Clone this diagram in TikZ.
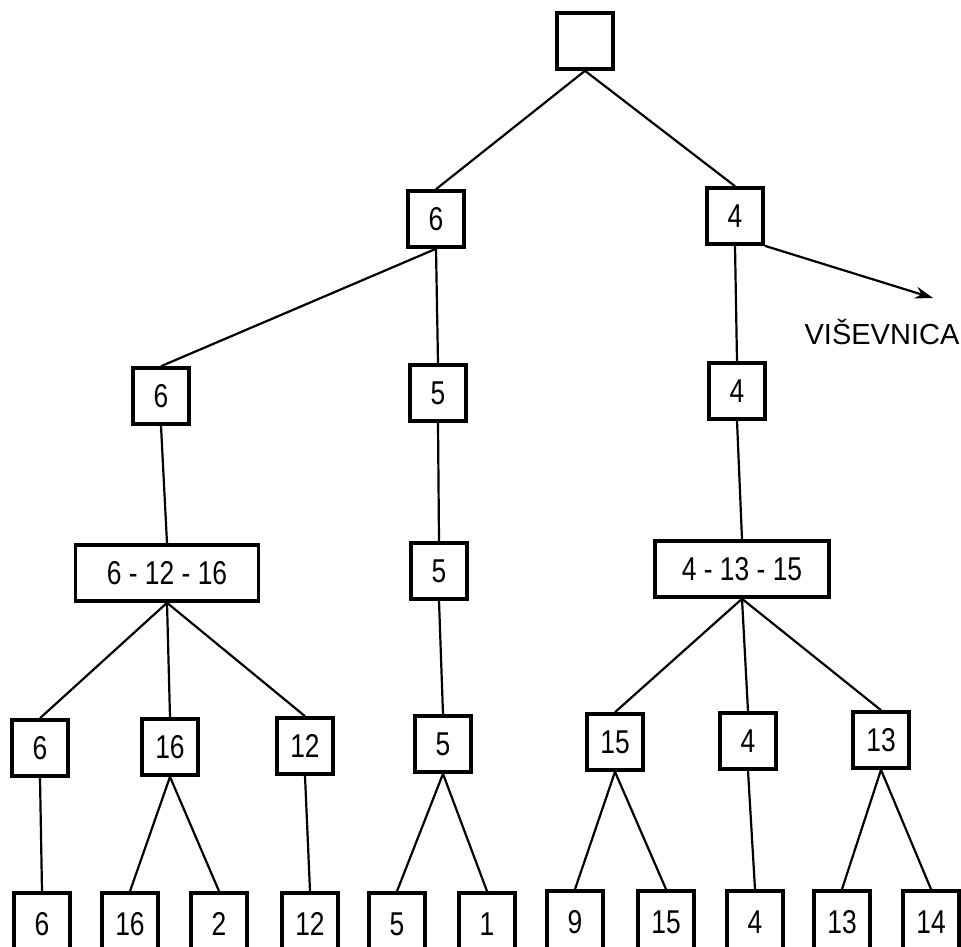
\documentclass[tikz,border=0pt]{standalone}
\usepackage{fontspec}
\setmainfont{Liberation Sans}
\newfontfamily\numfont[FakeStretch=0.8]{Liberation Sans}
\usetikzlibrary{arrows.meta}
\begin{document}
\begin{tikzpicture}[x=1pt,y=-1pt,
  box/.style={draw, line width=3.6pt, minimum width=56pt, minimum height=56pt, inner sep=0pt,
              font=\numfont\fontsize{33}{35}\selectfont},
  wide/.style={box, minimum width=#1},
  leaf/.style={box, minimum height=62pt},
  edge/.style={line width=2.2pt},
  lbl/.style={inner sep=0pt, font=\fontsize{29}{31}\selectfont}]
\useasboundingbox (0,0) rectangle (961,947);
% level 0
\node[box] (root) at (585,41) {};
% level 1
\node[box] (a6) at (436,219) {6};
\node[box] (a4) at (735,216) {4};
% level 2
\node[box] (b6) at (161,396) {6};
\node[box] (b5) at (438,393) {5};
\node[box] (b4) at (737,391) {4};
% level 3
\node[wide=183pt] (c1) at (167,573) {6 - 12 - 16};
\node[box] (c5) at (439,571) {5};
\node[wide=174pt] (c2) at (742,569) {4 - 13 - 15};
% level 4
\node[box] (d6) at (40,748) {6};
\node[box] (d16) at (170,747) {16};
\node[box] (d12) at (305,746) {12};
\node[box] (d5) at (443,744) {5};
\node[box] (d15) at (615,742) {15};
\node[box] (d4) at (748,741) {4};
\node[box] (d13) at (881,740) {13};
% level 5
\node[leaf] (e6) at (42,924) {6};
\node[leaf] (e16) at (130,924) {16};
\node[leaf] (e2) at (219,924) {2};
\node[leaf] (e12) at (310,924) {12};
\node[leaf] (e5) at (397,924) {5};
\node[leaf] (e1) at (487,924) {1};
\node[leaf] (e9) at (575,922) {9};
\node[leaf] (e15) at (666,922) {15};
\node[leaf] (e4) at (755,922) {4};
\node[leaf] (e13) at (842,922) {13};
\node[leaf] (e14) at (931,922) {14};
% label
\coordinate (vtip) at (933,298);
\node[lbl] (vis) at (882,332) {VIŠEVNICA};
% connectors
\draw[edge] (root.south) -- (a6.north);
\draw[edge] (root.south) -- (a4.north);
\draw[edge] (a6.south) -- (b6.north);
\draw[edge] (a6.south) -- (b5.north);
\draw[edge] (a4.south) -- (b4.north);
\draw[edge, -{Stealth[length=18pt,width=12pt]}] (a4.south east) -- (vtip);
\draw[edge] (b6.south) -- (c1.north);
\draw[edge] (b5.south) -- (c5.north);
\draw[edge] (b4.south) -- (c2.north);
\draw[edge] (c1.south) -- (d6.north);
\draw[edge] (c1.south) -- (d16.north);
\draw[edge] (c1.south) -- (d12.north);
\draw[edge] (c5.south) -- (d5.north);
\draw[edge] (c2.south) -- (d15.north);
\draw[edge] (c2.south) -- (d4.north);
\draw[edge] (c2.south) -- (d13.north);
\draw[edge] (d6.south) -- (e6.north);
\draw[edge] (d16.south) -- (e16.north);
\draw[edge] (d16.south) -- (e2.north);
\draw[edge] (d12.south) -- (e12.north);
\draw[edge] (d5.south) -- (e5.north);
\draw[edge] (d5.south) -- (e1.north);
\draw[edge] (d15.south) -- (e9.north);
\draw[edge] (d15.south) -- (e15.north);
\draw[edge] (d4.south) -- (e4.north);
\draw[edge] (d13.south) -- (e13.north);
\draw[edge] (d13.south) -- (e14.north);
\end{tikzpicture}
\end{document}
